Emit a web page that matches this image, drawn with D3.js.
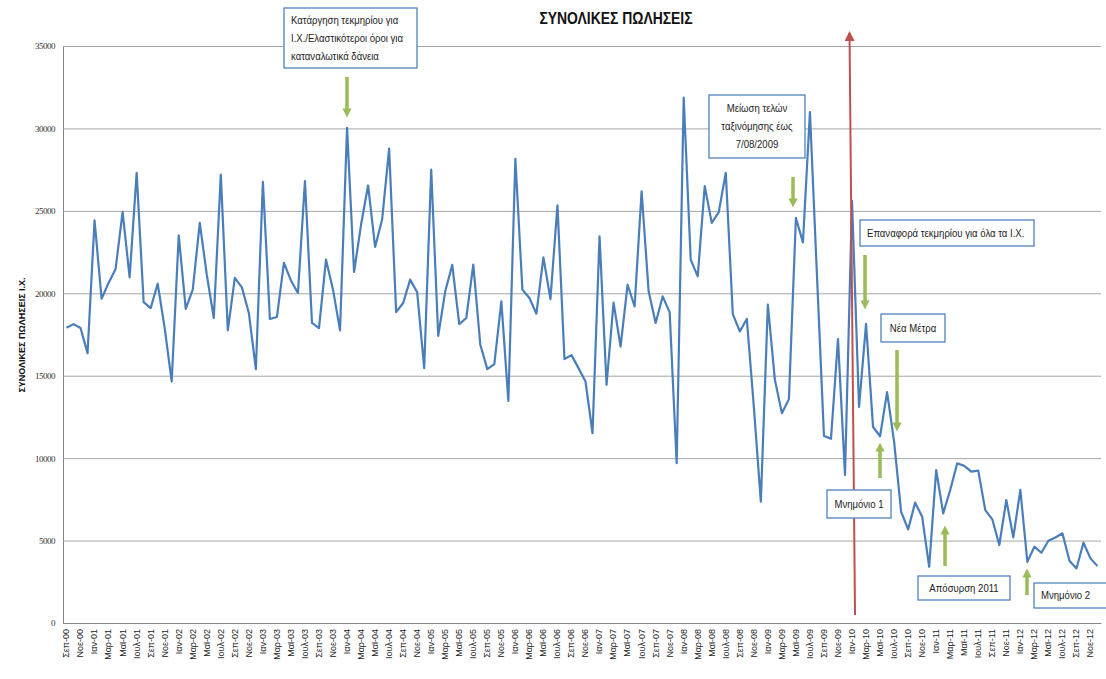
<!DOCTYPE html>
<html>
<head>
<meta charset="utf-8">
<script src="https://cdn.jsdelivr.net/npm/d3@7"></script>
<style>
  body { margin: 0; background: #fff; }
  svg { display: block; }
  .narrow { font-family: "Liberation Sans Narrow", "Arial Narrow", "Liberation Sans", sans-serif; }
</style>
</head>
<body>
<div class="chart"></div>
<script>
// month names used for the category axis
const monthNames = ['Ιαν', 'Φεβ', 'Μαρ', 'Απρ', 'Μαϊ', 'Ιουν', 'Ιουλ', 'Αυγ', 'Σεπ', 'Οκτ', 'Νοε', 'Δεκ'];
const years = ['00', '01', '02', '03', '04', '05', '06', '07', '08', '09', '10', '11', '12'];

// monthly total sales, Σεπ-00 .. Δεκ-12
const sales = [
  17910, 18130, 17890, 16370,
  24430, 19670, 20630, 21480, 24940, 20970, 27310, 19460, 19100, 20580, 17890, 14650,
  23520, 19050, 20220, 24270, 21130, 18500, 27200, 17750, 20930, 20360, 18800, 15400,
  26760, 18440, 18560, 21840, 20780, 20020, 26800, 18200, 17890, 22040, 20220, 17750,
  30040, 21290, 24170, 26540, 22810, 24470, 28770, 18860, 19410, 20830, 20060, 15460,
  27510, 17420, 20120, 21720, 18130, 18500, 21740, 16880, 15400, 15700, 19510, 13470,
  28160, 20220, 19710, 18760, 22180, 19650, 25340, 16010, 16250, 15460, 14650, 11510,
  23460, 14450, 19430, 16770, 20520, 19200, 26190, 20120, 18200, 19810, 18840, 9690,
  31870, 22040, 21030, 26500, 24270, 24920, 27310, 18740, 17690, 18440, 13130, 7360,
  19310, 14750, 12730, 13580, 24570, 23090, 30990, 21100, 11350, 11170, 17220, 8980,
  25600, 13110, 18140, 11890, 11330, 14000, 11000, 6750, 5680, 7300, 6450, 3410,
  9280, 6650, 8070, 9690, 9530, 9180, 9240, 6850, 6290, 4730, 7460, 5190,
  8070, 3710, 4630, 4260, 4990, 5190, 5440, 3770, 3310, 4870, 3920, 3450
];

const yTicks = [0, 5000, 10000, 15000, 20000, 25000, 30000, 35000];

const title = 'ΣΥΝΟΛΙΚΕΣ ΠΩΛΗΣΕΙΣ';
const yTitle = 'ΣΥΝΟΛΙΚΕΣ ΠΩΛΗΣΕΙΣ Ι.Χ.';

// notes on the chart: text lines, box
const notes = [
  { lines: ['Κατάργηση τεκμηρίου για', 'Ι.Χ./Ελαστικότεροι όροι για', 'καταναλωτικά δάνεια'], box: [284, 8, 133, 60], align: 'start' },
  { lines: ['Μείωση τελών', 'ταξινόμησης έως', '7/08/2009'], box: [709, 95, 96, 63], align: 'middle' },
  { lines: ['Επαναφορά τεκμηρίου για όλα τα Ι.Χ.'], box: [860, 220, 174, 26], align: 'start' },
  { lines: ['Νέα Μέτρα'], box: [881, 314, 64, 28], align: 'middle' },
  { lines: ['Μνημόνιο 1'], box: [827, 490, 64, 28], align: 'middle' },
  { lines: ['Απόσυρση 2011'], box: [918, 576, 92, 24], align: 'middle' },
  { lines: ['Μνημόνιο 2'], box: [1034, 583, 74, 25], align: 'start' }
];
const greenArrows = [
  [347, 77, 118], [793, 177, 208], [865, 255, 310], [897, 350, 432],
  [880, 478, 442], [945, 566, 525], [1027, 595, 568]
];

const w = 1106;
const h = 679;
const plotLeft = 63, plotRight = 1101, plotTop = 46, plotBottom = 623;
const squeeze = 0.87; // text looks condensed in the original

// categories
const months = [];
years.forEach((y, yi) => {
  monthNames.forEach((m, mi) => {
    if (yi === 0 && mi < 8) return;
    months.push(m + '-' + y);
  });
});
const tickLabels = months.filter((d, i) => i % 2 === 0);

const svg = d3.select('.chart')
  .append('svg')
  .attr('width', w)
  .attr('height', h);

const defs = svg.append('defs');
defs.append('marker')
  .attr('id', 'greenHead')
  .attr('viewBox', '0 0 10 10')
  .attr('refX', 5).attr('refY', 5)
  .attr('markerWidth', 2.6).attr('markerHeight', 2.6)
  .attr('orient', 'auto')
  .append('path').attr('d', 'M0,0 L10,5 L0,10 z').attr('fill', '#9bbb59');
defs.append('marker')
  .attr('id', 'redHead')
  .attr('viewBox', '0 0 10 10')
  .attr('refX', 8).attr('refY', 5)
  .attr('markerWidth', 5).attr('markerHeight', 5)
  .attr('orient', 'auto')
  .append('path').attr('d', 'M0,0 L10,5 L0,10 z').attr('fill', '#c0504d');

const xScale = d3.scaleBand().domain(months).range([plotLeft, plotRight]);
const yScale = d3.scaleLinear().domain([0, 35000]).range([plotBottom, plotTop]);
const cx = (d) => xScale(d) + xScale.bandwidth() / 2;

// grid + y axis
const yAxis = d3.axisLeft(yScale).tickValues(yTicks).tickSize(-(plotRight - plotLeft)).tickPadding(8).tickFormat(d3.format('d'));
const gy = svg.append('g')
  .attr('transform', 'translate(' + plotLeft + ',0)')
  .call(yAxis);
gy.select('.domain').attr('stroke', '#868686');
gy.selectAll('.tick line').attr('stroke', '#a5a5a5').attr('stroke-width', 1);
gy.selectAll('.tick text')
  .attr('font-family', '"Liberation Serif", serif')
  .attr('font-size', 9)
  .attr('fill', '#333')
  .attr('letter-spacing', -0.5);

// x axis
const xAxis = d3.axisBottom(xScale).tickValues(tickLabels).tickSize(0).tickPadding(0);
const gx = svg.append('g')
  .attr('transform', 'translate(0,' + plotBottom + ')')
  .call(xAxis);
gx.select('.domain').attr('stroke', '#868686');
gx.selectAll('.tick text')
  .attr('class', 'narrow')
  .attr('font-size', 9)
  .attr('fill', '#222')
  .attr('transform', 'rotate(-90)')
  .attr('text-anchor', 'end')
  .attr('x', -6)
  .attr('y', 0)
  .attr('dy', '0.32em');

// y axis title
svg.append('text')
  .attr('class', 'narrow')
  .attr('transform', 'translate(25,335) rotate(-90)')
  .attr('text-anchor', 'middle')
  .attr('font-size', 9)
  .attr('font-weight', 'bold')
  .attr('fill', '#111')
  .text(yTitle);

// title
svg.append('text')
  .attr('class', 'narrow')
  .attr('transform', 'translate(616,24) scale(' + squeeze + ',1)')
  .attr('text-anchor', 'middle')
  .attr('font-size', 16)
  .attr('font-weight', 'bold')
  .attr('fill', '#111')
  .text(title);

// sales line
const line = d3.line()
  .x((d, i) => cx(months[i]))
  .y((d) => yScale(d));

svg.append('path')
  .datum(sales)
  .attr('fill', 'none')
  .attr('stroke', '#4a7ebb')
  .attr('stroke-width', 2.2)
  .attr('stroke-linejoin', 'round')
  .attr('d', line);

// red marker at Ιαν-10
const redX = cx('Ιαν-10');
svg.append('line')
  .attr('x1', redX + 3).attr('y1', 615)
  .attr('x2', redX - 2.5).attr('y2', 33)
  .attr('stroke', '#c0504d')
  .attr('stroke-width', 2)
  .attr('marker-end', 'url(#redHead)');

// green arrows
svg.selectAll('.garrow')
  .data(greenArrows)
  .enter()
  .append('line')
  .attr('class', 'garrow')
  .attr('x1', (d) => d[0]).attr('y1', (d) => d[1])
  .attr('x2', (d) => d[0]).attr('y2', (d) => d[2] - Math.sign(d[2] - d[1]) * 5)
  .attr('stroke', '#9bbb59')
  .attr('stroke-width', 3.5)
  .attr('marker-end', 'url(#greenHead)');

// note boxes
const ng = svg.selectAll('.note')
  .data(notes)
  .enter()
  .append('g')
  .attr('class', 'note');

ng.append('rect')
  .attr('x', (d) => d.box[0])
  .attr('y', (d) => d.box[1])
  .attr('width', (d) => d.box[2])
  .attr('height', (d) => d.box[3])
  .attr('fill', '#fff')
  .attr('stroke', '#4f81bd')
  .attr('stroke-width', 1.3);

ng.each(function (d) {
  const g = d3.select(this);
  const n = d.lines.length;
  const lh = n > 1 ? 18 : 0;
  const midY = d.box[1] + d.box[3] / 2;
  const tx = d.align === 'middle' ? d.box[0] + d.box[2] / 2 : d.box[0] + 7;
  d.lines.forEach((t, i) => {
    const ty = midY + (i - (n - 1) / 2) * lh;
    g.append('text')
      .attr('class', 'narrow')
      .attr('transform', 'translate(' + tx + ',' + ty + ') scale(' + squeeze + ',1)')
      .attr('dy', '0.35em')
      .attr('text-anchor', d.align)
      .attr('font-size', 11)
      .attr('fill', '#222')
      .text(t);
  });
});
</script>
</body>
</html>
